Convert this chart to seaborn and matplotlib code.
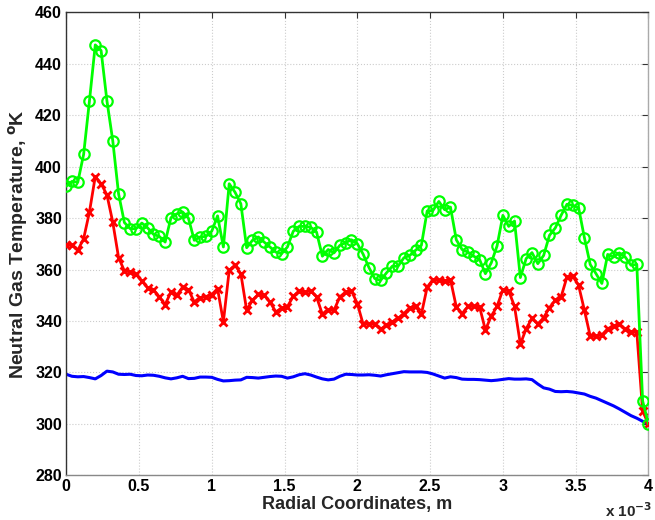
import numpy as np
import pandas as pd
import matplotlib
matplotlib.use("Agg")
import matplotlib.pyplot as plt
import seaborn as sns
from matplotlib.ticker import FuncFormatter

# radial coordinate (m), 101 stations from 0 to 4 mm
radius_m = np.linspace(0, 4e-3, 101)

# neutral gas temperature, K
temp_green = [
    392.4, 394.3, 394.0, 404.8, 425.6, 447.4, 445.2, 425.7, 410.2, 389.5,
    378.3, 375.9, 375.9, 378.1, 376.2, 373.7, 372.9, 370.7, 380.2, 381.7,
    382.4, 380.0, 371.4, 372.7, 372.9, 374.9, 380.9, 368.8, 393.4, 390.1,
    385.6, 368.5, 371.4, 372.7, 370.7, 368.8, 366.8, 366.2, 368.8, 374.9,
    376.8, 376.8, 376.5, 374.6, 365.2, 367.8, 366.5, 369.4, 370.5, 371.6,
    370.1, 366.0, 360.8, 356.5, 355.8, 358.7, 361.3, 361.3, 364.6, 365.5,
    367.5, 369.4, 382.8, 383.0, 386.5, 383.3, 384.3, 371.6, 367.8, 366.8,
    365.2, 363.9, 358.4, 362.6, 369.2, 381.1, 376.8, 378.9, 356.9, 364.3,
    366.6, 362.3, 365.5, 373.3, 376.2, 381.1, 385.4, 385.0, 384.1, 372.4,
    362.0, 358.4, 354.6, 365.9, 364.9, 366.5, 364.9, 361.7, 362.0, 308.9,
    299.9,
]

temp_red = [
    369.4, 369.6, 367.5, 372.0, 382.4, 396.2, 393.4, 389.1, 378.5, 364.7,
    359.5, 359.1, 358.1, 355.6, 352.9, 352.2, 349.4, 346.4, 351.3, 350.0,
    353.2, 352.2, 347.4, 349.0, 349.5, 350.3, 352.6, 339.7, 359.7, 361.7,
    358.4, 344.2, 348.1, 350.4, 350.0, 347.4, 343.6, 344.9, 345.6, 349.6,
    351.7, 351.3, 351.7, 349.4, 342.6, 344.4, 344.2, 349.4, 351.3, 351.7,
    346.8, 338.8, 339.0, 338.8, 336.8, 338.4, 339.7, 341.0, 342.9, 345.2,
    345.7, 342.6, 353.2, 356.1, 355.8, 355.6, 356.1, 345.5, 342.9, 345.7,
    345.7, 345.5, 336.5, 341.9, 345.7, 352.2, 351.7, 345.7, 331.0, 337.0,
    341.0, 338.8, 341.3, 345.2, 348.1, 349.4, 357.1, 357.4, 353.9, 344.2,
    334.1, 334.1, 334.6, 337.0, 338.0, 338.8, 336.7, 335.8, 335.8, 305.0,
    299.9,
]

temp_blue = [
    319.3, 318.5, 318.3, 318.4, 318.0, 317.5, 318.8, 320.5, 320.2, 319.3,
    319.2, 319.3, 318.8, 318.7, 319.0, 318.9, 318.5, 317.9, 317.5, 317.9,
    318.5, 317.6, 317.7, 318.2, 318.2, 318.1, 317.3, 316.7, 316.8, 317.0,
    317.1, 318.1, 318.0, 317.8, 318.1, 318.4, 318.6, 318.5, 317.8, 318.3,
    319.1, 319.5, 319.0, 318.2, 317.5, 317.1, 317.4, 318.5, 319.3, 319.2,
    319.0, 319.0, 319.1, 318.9, 318.6, 319.1, 319.5, 319.9, 320.3, 320.2,
    320.2, 320.2, 320.0, 319.4, 318.6, 317.8, 318.3, 318.0, 317.4, 317.3,
    317.3, 317.2, 317.0, 316.8, 317.0, 317.3, 317.6, 317.4, 317.4, 317.5,
    317.2, 315.5, 314.0, 313.5, 312.6, 312.5, 312.6, 312.4, 312.0, 311.6,
    310.7, 310.0, 309.0, 308.0, 307.0, 305.8, 304.5, 303.2, 302.2, 301.0,
    300.0,
]

x_ticks = [0, 0.5e-3, 1e-3, 1.5e-3, 2e-3, 2.5e-3, 3e-3, 3.5e-3, 4e-3]
y_ticks = list(range(280, 461, 20))

df = pd.DataFrame({"r": radius_m, "green": temp_green,
                   "red": temp_red, "blue": temp_blue})

sns.set_style("white")
plt.rcParams["font.family"] = ["Liberation Sans", "DejaVu Sans"]
plt.rcParams["font.weight"] = "bold"

fig = plt.figure(figsize=(6.55, 5.2), dpi=100)
ax = fig.add_axes([0.101, 0.086, 0.889, 0.89])

# blue: plain line
sns.lineplot(data=df, x="r", y="blue", ax=ax, color=(0, 0, 1),
             linewidth=2.2, zorder=2)
# red: x markers
sns.lineplot(data=df, x="r", y="red", ax=ax, color=(1, 0, 0),
             linewidth=2.0, marker="x", markersize=6,
             markeredgecolor=(1, 0, 0), markeredgewidth=2.0, zorder=3)
# green: hollow circles
sns.lineplot(data=df, x="r", y="green", ax=ax, color=(0, 1, 0),
             linewidth=2.0, marker="o", markersize=7.5,
             markerfacecolor="none", markeredgecolor=(0, 1, 0),
             markeredgewidth=1.6, zorder=4)

ax.set_xlim(0, 4e-3)
ax.set_ylim(280, 460)
ax.set_xticks(x_ticks)
ax.set_yticks(y_ticks)
ax.xaxis.set_major_formatter(FuncFormatter(lambda v, p: f"{v * 1e3:g}"))

ax.grid(True, linestyle=":", color="#cccccc", linewidth=0.8)
ax.spines["left"].set_color("#333333")
ax.spines["top"].set_color("#333333")
ax.spines["bottom"].set_color("#888888")
ax.spines["right"].set_color("#aaaaaa")
for s in ax.spines.values():
    s.set_visible(True)
    s.set_linewidth(1.0)
ax.tick_params(direction="in", length=4, width=0.8, top=True, right=True,
               labelsize=11.5, pad=3, colors="#333333")
for lab in ax.get_xticklabels() + ax.get_yticklabels():
    lab.set_fontweight("bold")
    lab.set_color("black")

ax.set_xlabel("Radial Coordinates, m", fontsize=13, fontweight="bold", labelpad=1)
ax.set_ylabel("Neutral Gas Temperature, $\\mathbf{^{o}}$K", fontsize=14,
              fontweight="bold", labelpad=4)
fig.text(0.996, 0.0, "x 10$^{\\mathbf{-3}}$", ha="right", va="bottom",
         fontsize=11, fontweight="bold")

fig.savefig("out.png", dpi=100)
